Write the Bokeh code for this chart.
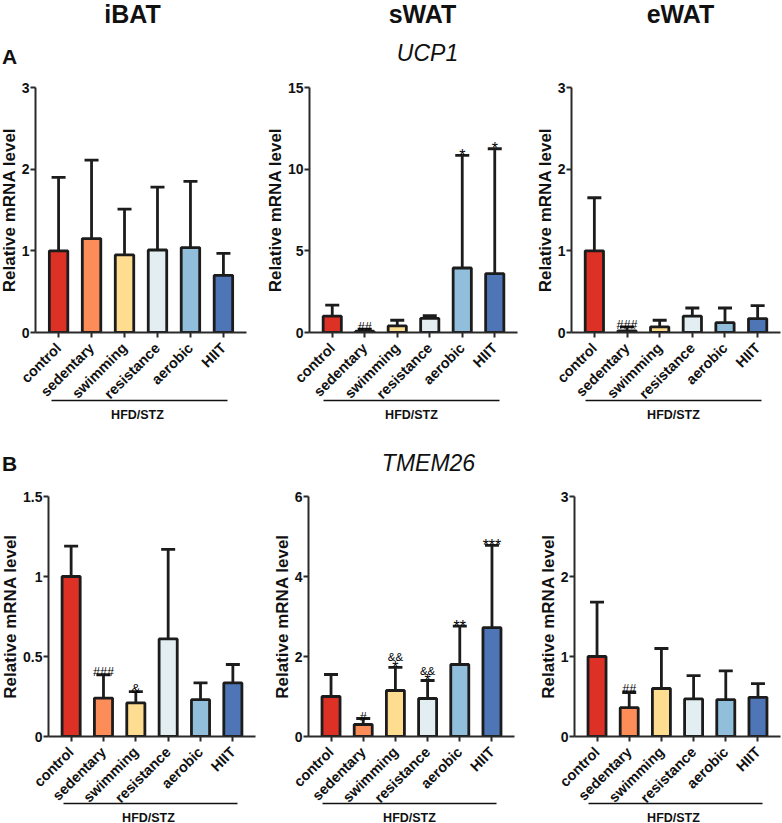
from math import pi

from bokeh.core.properties import value
from bokeh.embed import file_html
from bokeh.layouts import column, row
from bokeh.models import ColumnDataSource, FactorRange, FixedTicker, Range1d, TeeHead, Whisker
from bokeh.plotting import figure
from bokeh.resources import INLINE

categories = ["control", "sedentary", "swimming", "resistance", "aerobic", "HIIT"]
bar_colors = ["#DE3125", "#FC8D59", "#FEDD90", "#E3EEF2", "#91BFDB", "#4E75B5"]

ucp1_ibat_mean = [1.0, 1.15, 0.95, 1.01, 1.04, 0.70]
ucp1_ibat_top = [1.90, 2.11, 1.51, 1.78, 1.85, 0.97]
ucp1_swat_mean = [1.0, 0.08, 0.40, 0.87, 3.95, 3.60]
ucp1_swat_top = [1.68, 0.20, 0.75, 1.03, 10.85, 11.25]
ucp1_ewat_mean = [1.0, 0.02, 0.07, 0.20, 0.12, 0.17]
ucp1_ewat_top = [1.65, 0.07, 0.15, 0.30, 0.30, 0.33]

tmem26_ibat_mean = [1.0, 0.24, 0.21, 0.61, 0.23, 0.335]
tmem26_ibat_top = [1.19, 0.385, 0.28, 1.17, 0.335, 0.45]
tmem26_swat_mean = [1.0, 0.30, 1.15, 0.95, 1.80, 2.72]
tmem26_swat_top = [1.55, 0.45, 1.73, 1.40, 2.76, 4.78]
tmem26_ewat_mean = [1.0, 0.36, 0.60, 0.47, 0.46, 0.49]
tmem26_ewat_top = [1.68, 0.55, 1.10, 0.76, 0.82, 0.66]

FONT = "Liberation Sans"
DARK = "#1c1c1c"
PAGE_W = 782
OVER_LEFT = 12    # chaque figure déborde à gauche et en bas pour garder le cadre au bon pixel
OVER_BOTTOM = 14
MARK_SIZE = {"*": "16px", "#": "12.5px", "&": "13px", "&&": "11.5px"}


def panel(mean, top, ymax, ticks, box, frame, marks):
    """box = (x0, y0, x1, y1) de la figure, frame = (gauche, haut, droite, bas) en pixels."""
    p = figure(output_backend="svg", toolbar_location=None,
               width=box[2] - box[0] + OVER_LEFT, height=box[3] - box[1] + OVER_BOTTOM,
               x_range=FactorRange(factors=categories, range_padding=0.2, range_padding_units="absolute"),
               y_range=Range1d(0, ymax),
               min_border_left=frame[0] - box[0] + OVER_LEFT, min_border_top=frame[1] - box[1],
               min_border_right=box[2] - frame[2], min_border_bottom=box[3] - frame[3] + OVER_BOTTOM,
               margin=(0, 0, -OVER_BOTTOM, -OVER_LEFT))
    p.outline_line_color = None
    p.grid.visible = False
    p.background_fill_color = None
    p.border_fill_color = None

    source = ColumnDataSource(dict(cat=categories, mean=mean, top=top, color=bar_colors))
    p.vbar(x="cat", top="mean", width=0.56, source=source, fill_color="color",
           line_color=DARK, line_width=2.8)
    p.add_layout(Whisker(base="cat", lower="mean", upper="top", source=source, line_color=DARK,
                         line_width=2.8, lower_head=None,
                         upper_head=TeeHead(size=14, line_color=DARK, line_width=2.8)))

    for ax in (p.xaxis[0], p.yaxis[0]):
        ax.axis_line_color = "#2a2a2a"
        ax.axis_line_width = 2
        ax.major_tick_line_color = "#2a2a2a"
        ax.major_tick_line_width = 2
        ax.major_tick_in = 0
        ax.major_tick_out = 5
        ax.minor_tick_line_color = None
        ax.major_label_text_font = FONT
        ax.major_label_text_font_style = "bold"
        ax.major_label_text_color = "#111111"
    p.xaxis.major_label_orientation = pi / 4
    p.xaxis.major_label_text_font_size = "14.5px"
    p.xaxis.major_label_standoff = 8
    p.yaxis.ticker = FixedTicker(ticks=ticks)
    p.yaxis.major_label_text_font_size = "14px"
    p.yaxis.major_label_standoff = 1
    p.yaxis.axis_label = "Relative mRNA level"
    p.yaxis.axis_label_text_font = FONT
    p.yaxis.axis_label_text_font_style = "bold"
    p.yaxis.axis_label_text_font_size = "17px"
    p.yaxis.axis_label_text_color = "#111111"
    p.yaxis.axis_label_standoff = 0

    # marques de significativité au-dessus des barres d'erreur
    for cat, text, lift in marks:
        i = categories.index(cat)
        size = MARK_SIZE.get(text, MARK_SIZE[text[0]])
        p.text(x=[cat], y=[top[i]], text=[text], text_font=value(FONT), text_font_size=size,
               text_align="center", text_baseline="alphabetic", text_color="#000000", y_offset=lift)
    return p


def strip(y0, y1, texts, lines):
    """Bande de texte pleine largeur, coordonnées en pixels de la page."""
    s = figure(output_backend="svg", toolbar_location=None, width=PAGE_W, height=y1 - y0,
               x_range=Range1d(0, PAGE_W), y_range=Range1d(y1, y0),
               x_axis_location=None, y_axis_location=None,
               min_border_left=0, min_border_right=0, min_border_top=0, min_border_bottom=0)
    s.outline_line_color = None
    s.grid.visible = False
    s.background_fill_color = None
    s.border_fill_color = None
    for text, x, y, size, style in texts:
        s.text(x=[x], y=[y], text=[text], text_font=value(FONT), text_font_size=size,
               text_font_style=style, text_align="center", text_baseline="middle", text_color="#111111")
    for x0, x1, y in lines:
        s.line(x=[x0, x1], y=[y, y], line_color="#111111", line_width=1.5)
    return s


p1 = panel(ucp1_ibat_mean, ucp1_ibat_top, 3, [0, 1, 2, 3], (0, 70, 260, 397), (35, 87, 246, 332), [])
p2 = panel(ucp1_swat_mean, ucp1_swat_top, 15, [0, 5, 10, 15], (260, 70, 520, 397), (309, 87, 517, 332),
           [("sedentary", "##", -2), ("aerobic", "*", 0), ("HIIT", "*", 0)])
p3 = panel(ucp1_ewat_mean, ucp1_ewat_top, 3, [0, 1, 2, 3], (520, 70, 782, 397), (571, 87, 780, 332),
           [("sedentary", "###", -2)])
p4 = panel(tmem26_ibat_mean, tmem26_ibat_top, 1.5, [0, 0.5, 1, 1.5], (0, 478, 260, 800), (48, 494, 255, 736),
           [("sedentary", "###", -3), ("swimming", "&", -3)])
p5 = panel(tmem26_swat_mean, tmem26_swat_top, 6, [0, 2, 4, 6], (260, 478, 520, 800), (308, 496, 514, 737),
           [("sedentary", "#", -2), ("swimming", "*", 0), ("swimming", "&&", -10),
            ("resistance", "*", 0), ("resistance", "&&", -10), ("aerobic", "**", 0), ("HIIT", "***", 0)])
p6 = panel(tmem26_ewat_mean, tmem26_ewat_top, 3, [0, 1, 2, 3], (520, 478, 782, 800), (574, 496, 780, 737),
           [("sedentary", "##", -4)])

head_a = strip(0, 70, [("iBAT", 132, 13, "25px", "bold"), ("sWAT", 422, 13, "25px", "bold"),
                       ("eWAT", 680, 13, "25px", "bold"), ("A", 9, 56, "21px", "bold"),
                       ("UCP1", 427, 52, "23px", "italic")], [])
foot_a = strip(397, 420, [("HFD/STZ", 137, 414, "12.5px", "bold"), ("HFD/STZ", 411, 414, "12.5px", "bold"),
                          ("HFD/STZ", 673, 414, "12.5px", "bold")],
               [(51, 227, 400), (323, 499, 400), (585, 761, 400)])
head_b = strip(420, 478, [("B", 9, 463, "21px", "bold"), ("TMEM26", 428, 462, "23px", "italic")], [])
foot_b = strip(800, 823, [("HFD/STZ", 148, 817, "12.5px", "bold"), ("HFD/STZ", 409, 817, "12.5px", "bold"),
                          ("HFD/STZ", 673, 817, "12.5px", "bold")],
               [(63, 237, 803), (322, 496, 803), (588, 762, 803)])

page = column(head_a, row(p1, p2, p3, spacing=0), foot_a, head_b, row(p4, p5, p6, spacing=0), foot_b, spacing=0)
open("out.html", "w").write(file_html(page, INLINE))
